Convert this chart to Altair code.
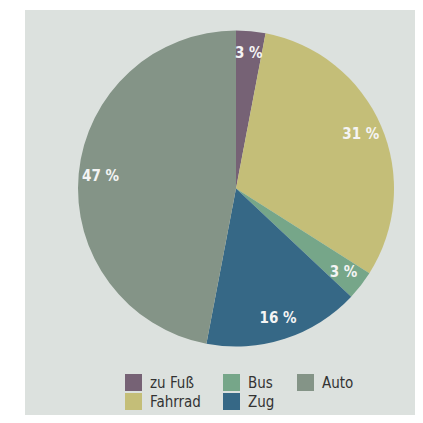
import altair as alt
import pandas as pd

categories = ["zu Fuß", "Fahrrad", "Bus", "Zug", "Auto"]
values = [3, 31, 3, 16, 47]
labels = ["3 %", "31 %", "3 %", "16 %", "47 %"]
order = [0, 1, 2, 3, 4]
color_range = ["#766275", "#c4be78", "#76a689", "#366886", "#849487"]

df = pd.DataFrame({"cat": categories, "val": values, "lab": labels, "ord": order})

FONT = "DejaVu Sans Condensed"
CX, CY = 211, 178.5

base = alt.Chart(df).encode(
    theta=alt.Theta("val:Q", stack=True),
    order=alt.Order("ord:Q"),
    x=alt.value(CX),
    y=alt.value(CY),
)

pie = base.mark_arc(outerRadius=158).encode(
    color=alt.Color(
        "cat:N",
        scale=alt.Scale(domain=categories, range=color_range),
        legend=alt.Legend(
            title=None, orient="none", legendX=100, legendY=364, columns=3,
            symbolType="square", symbolSize=289, symbolStrokeWidth=0,
            labelFont=FONT, labelFontSize=15, labelColor="#333333",
            labelOffset=8, columnPadding=22, rowPadding=2, padding=0,
            gridAlign="each",
        ),
    )
)

text = base.mark_text(radius=136, font=FONT, fontSize=15, fontWeight="bold",
                      color="#f4f4f4").encode(text="lab:N")

chart = (pie + text).properties(
    width=390, height=405,
    autosize=alt.AutoSizeParams(type="none"),
    padding={"left": 17, "top": 2, "right": 0, "bottom": 0},
    background="#ffffff",
).configure_view(fill="#dce1de", stroke=None)

chart.save("out.html", embed_options={"renderer": "svg", "actions": False})
